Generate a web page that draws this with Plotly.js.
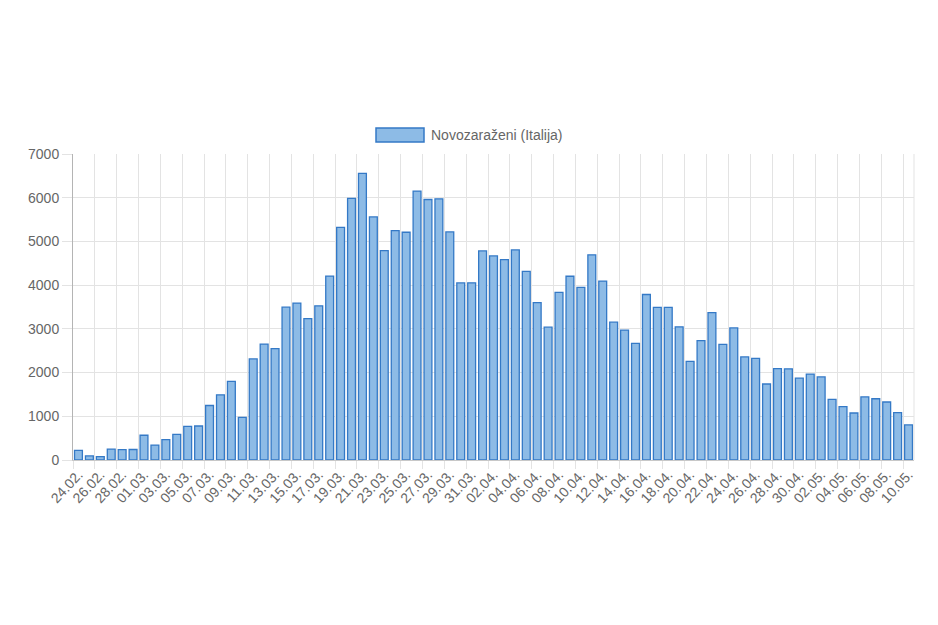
<!DOCTYPE html>
<html>
<head>
<meta charset="utf-8">
<script src="https://cdn.plot.ly/plotly-3.0.1.min.js"></script>
<style>
  html, body { margin: 0; padding: 0; background: #fff; }
  #chart { width: 938px; height: 625px; }
</style>
</head>
<body>
<div id="chart"></div>
<script>
// daily new cases in Italy, 24.02. - 10.05.
const days = [
    "24.02.", "25.02.", "26.02.", "27.02.", "28.02.", "29.02.",
    "01.03.", "02.03.", "03.03.", "04.03.", "05.03.", "06.03.", "07.03.", "08.03.", "09.03.", "10.03.",
    "11.03.", "12.03.", "13.03.", "14.03.", "15.03.", "16.03.", "17.03.", "18.03.", "19.03.", "20.03.",
    "21.03.", "22.03.", "23.03.", "24.03.", "25.03.", "26.03.", "27.03.", "28.03.", "29.03.", "30.03.", "31.03.",
    "01.04.", "02.04.", "03.04.", "04.04.", "05.04.", "06.04.", "07.04.", "08.04.", "09.04.", "10.04.",
    "11.04.", "12.04.", "13.04.", "14.04.", "15.04.", "16.04.", "17.04.", "18.04.", "19.04.", "20.04.",
    "21.04.", "22.04.", "23.04.", "24.04.", "25.04.", "26.04.", "27.04.", "28.04.", "29.04.", "30.04.",
    "01.05.", "02.05.", "03.05.", "04.05.", "05.05.", "06.05.", "07.05.", "08.05.", "09.05.", "10.05."
];

const newCases = [
    221, 93, 78, 250, 238, 240,
    566, 342, 466, 587, 769, 778, 1247, 1492, 1797, 977,
    2313, 2651, 2547, 3497, 3590, 3233, 3526, 4207, 5322, 5986,
    6557, 5560, 4789, 5249, 5210, 6153, 5959, 5974, 5217, 4050, 4053,
    4782, 4668, 4585, 4805, 4316, 3599, 3039, 3836, 4204, 3951,
    4694, 4092, 3153, 2972, 2667, 3786, 3493, 3491, 3047, 2256,
    2729, 3370, 2646, 3021, 2357, 2324, 1739, 2091, 2086, 1872,
    1965, 1900, 1389, 1221, 1075, 1444, 1401, 1327, 1083, 802
];

const seriesName = "Novozaraženi (Italija)";
const fillColor = "#8dbbe6";
const edgeColor = "#3479c6";
const gridColor = "#e3e3e3";
const textColor = "#666";

let trace = {
    x: days,
    y: newCases,
    type: "bar",
    name: seriesName,
    marker: {
        color: fillColor,
        line: { color: edgeColor, width: 1.3 }
    },
    hoverinfo: "x+y"
};

let layout = {
    width: 938,
    height: 625,
    margin: { l: 73, r: 24, t: 154, b: 165 },
    paper_bgcolor: "#fff",
    plot_bgcolor: "#fff",
    font: { family: "Liberation Sans, Arial, sans-serif", size: 14, color: textColor },
    bargap: 0.28,
    showlegend: false,
    xaxis: {
        type: "category",
        tickmode: "linear",
        tick0: 0,
        dtick: 2,
        tickangle: -47,
        tickson: "boundaries",
        ticks: "outside",
        ticklen: 8,
        tickcolor: gridColor,
        showgrid: true,
        gridcolor: gridColor,
        showline: true,
        linecolor: "#c8c8c8",
        tickfont: { size: 14, color: textColor },
        range: [-0.5, days.length - 0.5]
    },
    yaxis: {
        range: [0, 7000],
        dtick: 1000,
        ticks: "outside",
        ticklen: 10,
        tickcolor: gridColor,
        showgrid: true,
        gridcolor: gridColor,
        zeroline: false,
        showline: true,
        linecolor: "#b4b4b4",
        tickfont: { size: 14, color: textColor }
    },
    shapes: [
        // right border of the plot area
        { type: "line", xref: "paper", yref: "paper", x0: 1, x1: 1, y0: 0, y1: 1,
          line: { color: gridColor, width: 1 } },
        // legend swatch
        { type: "rect", xref: "paper", yref: "paper",
          x0: (376 - 73) / 841, x1: (424 - 73) / 841,
          y0: (460 - 142) / 306, y1: (460 - 128) / 306,
          fillcolor: fillColor, line: { color: edgeColor, width: 1.5 } }
    ],
    annotations: [
        { xref: "paper", yref: "paper",
          x: (429 - 73) / 841, y: (460 - 135) / 306,
          xanchor: "left", yanchor: "middle", showarrow: false,
          text: seriesName, font: { size: 14, color: textColor } }
    ]
};

Plotly.newPlot("chart", [trace], layout, { displayModeBar: false, staticPlot: true });
</script>
</body>
</html>
